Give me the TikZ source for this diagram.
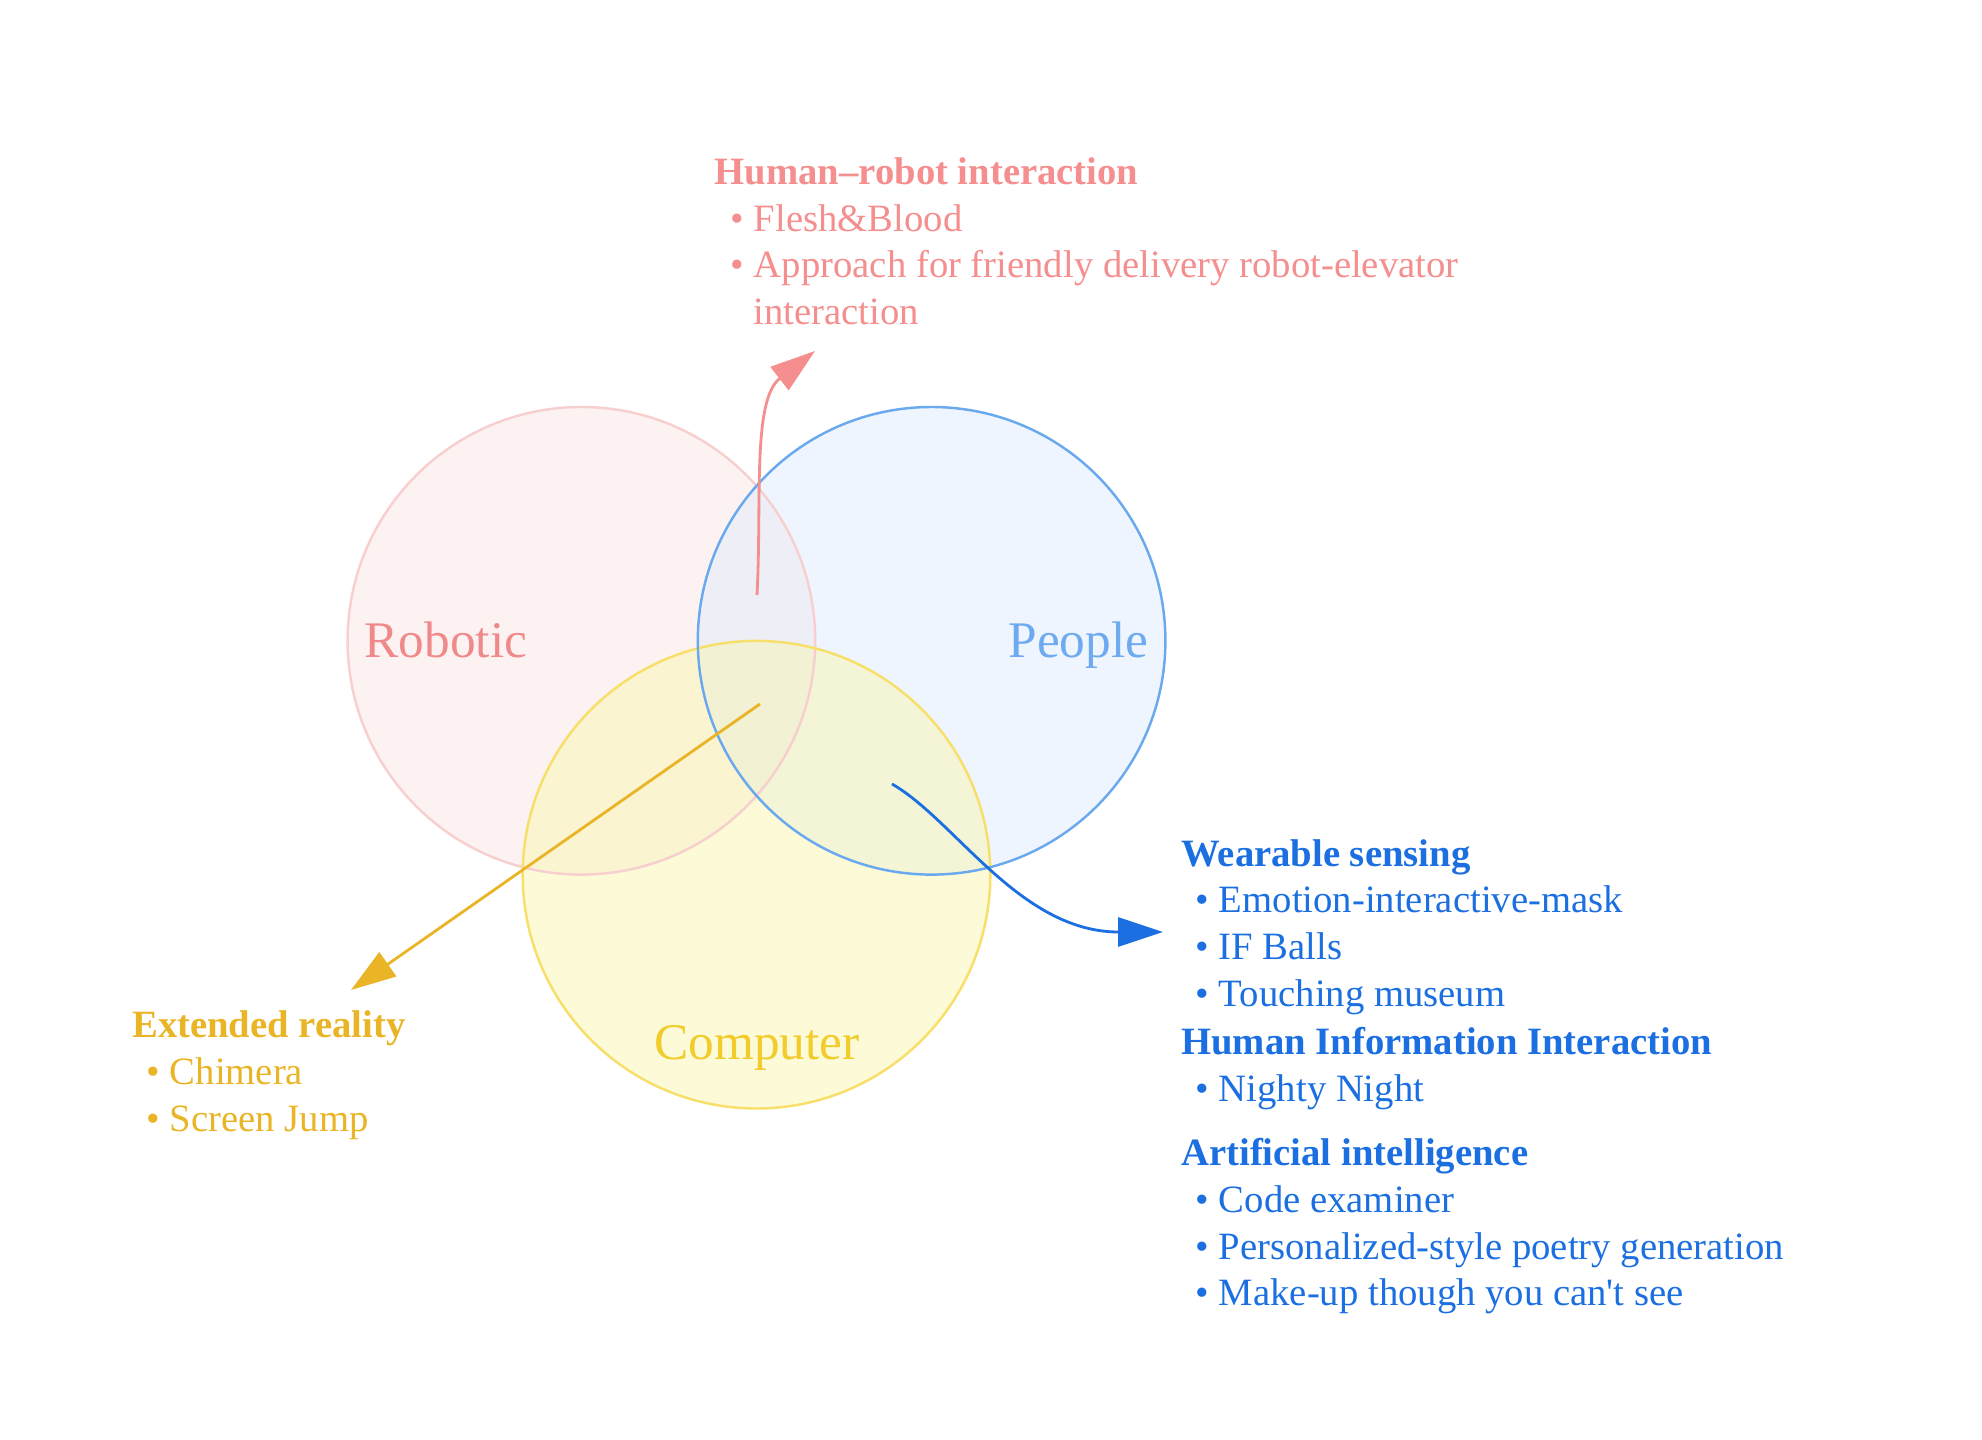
\documentclass[tikz,border=0pt]{standalone}
\usepackage{fontspec}
\setmainfont{Liberation Serif}[Ligatures=TeXOff]
\usetikzlibrary{arrows.meta}

\definecolor{robStroke}{HTML}{F7CFCF}
\definecolor{robFill}{HTML}{FCE6E6}
\definecolor{robText}{HTML}{F08A8A}
\definecolor{peoStroke}{HTML}{6AA9EE}
\definecolor{peoFill}{HTML}{DFEBFD}
\definecolor{peoText}{HTML}{6EAAF0}
\definecolor{comStroke}{HTML}{F7DF6A}
\definecolor{comFill}{HTML}{F9F5B0}
\definecolor{comText}{HTML}{F2CC2A}
\definecolor{hriCol}{HTML}{F58E8E}
\definecolor{xrCol}{HTML}{E9B526}
\definecolor{wsCol}{HTML}{1B6FE0}

\tikzset{
  setcircle/.style={circle, minimum size=467.6*0.01cm, inner sep=0pt, line width=0.7pt},
  setlabel/.style={inner sep=0pt, font=\fontsize{14.6}{17}\selectfont},
  heading/.style={anchor=base west, inner sep=0pt, font=\fontsize{11}{13}\selectfont\bfseries},
  item/.style={anchor=base west, inner sep=0pt, font=\fontsize{11}{13}\selectfont},
  link/.style={line width=0.8pt, -{Triangle[length=12.8pt, width=8.3pt]}},
}

\begin{document}
\begin{tikzpicture}[x=0.01cm, y=-0.01cm]
  \useasboundingbox (0,0) rectangle (1982,1440);

  % the three sets: translucent fills first
  \node[setcircle, fill=robFill, fill opacity=0.5] (rob) at (581.4,640.8) {};
  \node[setcircle, fill=peoFill, fill opacity=0.5] (peo) at (931.6,640.8) {};
  \node[setcircle, fill=comFill, fill opacity=0.5] (com) at (756.5,874.7) {};
  % then their outlines
  \draw[robStroke, line width=0.7pt] (rob.center) circle[radius=233.8];
  \draw[comStroke, line width=0.7pt] (com.center) circle[radius=233.8];
  \draw[peoStroke, line width=0.7pt] (peo.center) circle[radius=233.8];

  % set names
  \node[setlabel, anchor=base west, text=robText] (robl) at (364,657) {Robotic};
  \node[setlabel, anchor=base east, text=peoText] (peol) at (1149,657) {People};
  \node[setlabel, anchor=base, text=comText] (coml) at (757,1059) {Computer};

  % human-robot interaction (robotic and people)
  \node[heading, text=hriCol] (hri) at (714,184.5) {Human–robot interaction};
  \node[item, text=hriCol] (hri1) at (730,231.3) {\textbullet\ Flesh\&Blood};
  \node[item, text=hriCol] (hri2) at (730,278) {\textbullet\ Approach for friendly delivery robot-elevator};
  \node[item, text=hriCol] (hri3) at (753,325) {interaction};

  % extended reality (robotic and computer)
  \node[heading, text=xrCol] (xr) at (131.5,1037.7) {Extended reality};
  \node[item, text=xrCol] (xr1) at (146,1084.5) {\textbullet\ Chimera};
  \node[item, text=xrCol] (xr2) at (146,1131) {\textbullet\ Screen Jump};

  % people and computer
  \node[heading, text=wsCol] (ws) at (1180.6,866) {Wearable sensing};
  \node[item, text=wsCol] (ws1) at (1195,912.6) {\textbullet\ Emotion-interactive-mask};
  \node[item, text=wsCol] (ws2) at (1195,959.4) {\textbullet\ IF Balls};
  \node[item, text=wsCol] (ws3) at (1195,1006) {\textbullet\ Touching museum};
  \node[heading, text=wsCol] (hii) at (1180.6,1054) {Human Information Interaction};
  \node[item, text=wsCol] (hii1) at (1195,1101) {\textbullet\ Nighty Night};
  \node[heading, text=wsCol] (ai) at (1180.6,1165.4) {Artificial intelligence};
  \node[item, text=wsCol] (ai1) at (1195,1212) {\textbullet\ Code examiner};
  \node[item, text=wsCol] (ai2) at (1195,1259) {\textbullet\ Personalized-style poetry generation};
  \node[item, text=wsCol] (ai3) at (1195,1305.7) {\textbullet\ Make-up though you can't see};

  % connectors
  \coordinate (hriS) at (757,595);
  \coordinate (hriT) at (815,351);
  \coordinate (xrS) at (760,704);
  \coordinate (xrT) at (351,990);
  \coordinate (wsS) at (892,784);
  \coordinate (wsT) at (1163,932);

  \draw[link, draw=hriCol] (hriS) .. controls (762,500) and (752,400) .. (hriT);
  \draw[link, draw=xrCol] (xrS) -- (xrT);
  \draw[link, draw=wsCol] (wsS) .. controls (955,820) and (1020,932) .. (wsT);
\end{tikzpicture}
\end{document}
